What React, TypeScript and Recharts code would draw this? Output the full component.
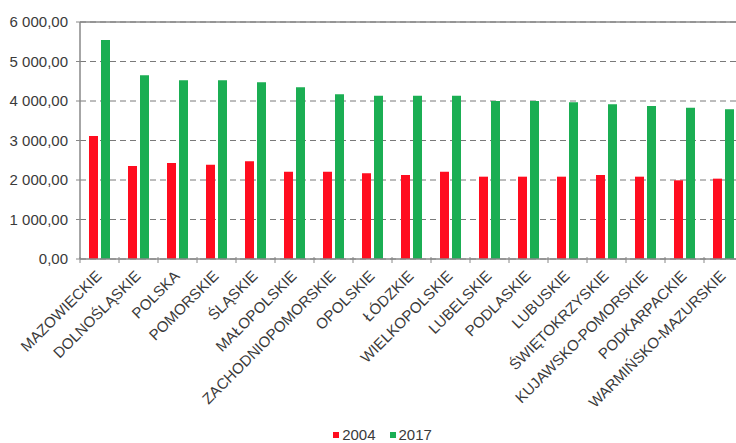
import { Bar, BarChart, CartesianGrid, Legend, ReferenceLine, XAxis, YAxis } from "recharts";

const regions = [
  "MAZOWIECKIE",
  "DOLNOŚLĄSKIE",
  "POLSKA",
  "POMORSKIE",
  "ŚLĄSKIE",
  "MAŁOPOLSKIE",
  "ZACHODNIOPOMORSKIE",
  "OPOLSKIE",
  "ŁÓDZKIE",
  "WIELKOPOLSKIE",
  "LUBELSKIE",
  "PODLASKIE",
  "LUBUSKIE",
  "ŚWIĘTOKRZYSKIE",
  "KUJAWSKO-POMORSKIE",
  "PODKARPACKIE",
  "WARMIŃSKO-MAZURSKIE",
];

const values2004 = [
  3114, 2354, 2430, 2387, 2473, 2211, 2211, 2169, 2127, 2211, 2084, 2084, 2084, 2127, 2084, 1992, 2034,
];
const values2017 = [
  5544, 4650, 4524, 4524, 4473, 4346, 4169, 4135, 4135, 4135, 4000, 4000, 3966, 3916, 3873, 3831, 3789,
];
const yTicks = [0, 1000, 2000, 3000, 4000, 5000, 6000];

const RED = "#ff0d1f";
const GREEN = "#1bae53";
const AXIS = "#888888";
const TEXT = "#3a3a3a";
const FONT = "'Liberation Sans', Arial, sans-serif";

const data = regions.map((name, i) => ({
  name,
  y2004: values2004[i],
  y2017: values2017[i],
}));

const formatPl = (v: number) => {
  const [int, dec] = v.toFixed(2).split(".");
  return int.replace(/\B(?=(\d{3})+(?!\d))/g, " ") + "," + dec;
};

const RegionTick = ({ x, y, payload }: any) => {
  const half = payload.offset ?? 19.5;
  return (
    <g>
      <line x1={x - half} y1={y - 2} x2={x - half} y2={y + 4} stroke={AXIS} />
      <text
        x={x + 3}
        y={y + 18}
        textAnchor="end"
        transform={`rotate(-45, ${x + 3}, ${y + 18})`}
        fill={TEXT}
        fontSize={15}
        fontFamily={FONT}
      >
        {payload.value}
      </text>
    </g>
  );
};

const LegendBox = () => (
  <div
    style={{
      display: "flex",
      justifyContent: "center",
      gap: 14,
      paddingLeft: 22,
      paddingTop: 3,
      fontFamily: FONT,
      fontSize: 15,
      color: TEXT,
      lineHeight: "17px",
    }}
  >
    <span style={{ display: "flex", alignItems: "center", gap: 3 }}>
      <span style={{ width: 6, height: 6, background: RED, display: "inline-block" }} />
      2004
    </span>
    <span style={{ display: "flex", alignItems: "center", gap: 3 }}>
      <span style={{ width: 6, height: 6, background: GREEN, display: "inline-block" }} />
      2017
    </span>
  </div>
);

export default function App() {
  return (
    <div
      style={{
        position: "fixed",
        left: 0,
        top: 0,
        width: 736,
        height: 443,
        overflow: "hidden",
        background: "#fff",
      }}
    >
      <BarChart
        width={760}
        height={443}
        data={data}
        margin={{ top: 22, right: 17, left: 0, bottom: 0 }}
        barSize={9}
        barGap={3}
      >
        <CartesianGrid vertical={false} stroke="#7a7a7a" strokeDasharray="6 4" />
        <XAxis
          dataKey="name"
          interval={0}
          height={164}
          tickLine={false}
          tickSize={0}
          tickMargin={0}
          axisLine={{ stroke: AXIS, strokeWidth: 1.5 }}
          tick={<RegionTick />}
        />
        <YAxis
          width={80}
          domain={[0, 6000]}
          ticks={yTicks}
          tickFormatter={formatPl}
          tickSize={4}
          tickMargin={8}
          axisLine={{ stroke: AXIS, strokeWidth: 1.5 }}
          tickLine={{ stroke: AXIS }}
          tick={{ fill: TEXT, fontSize: 15, fontFamily: FONT }}
        />
        <ReferenceLine y={6000} stroke={AXIS} strokeWidth={1.5} />
        <Legend verticalAlign="bottom" height={20} content={<LegendBox />} />
        <Bar dataKey="y2004" name="2004" fill={RED} isAnimationActive={false} />
        <Bar dataKey="y2017" name="2017" fill={GREEN} isAnimationActive={false} />
      </BarChart>
    </div>
  );
}
